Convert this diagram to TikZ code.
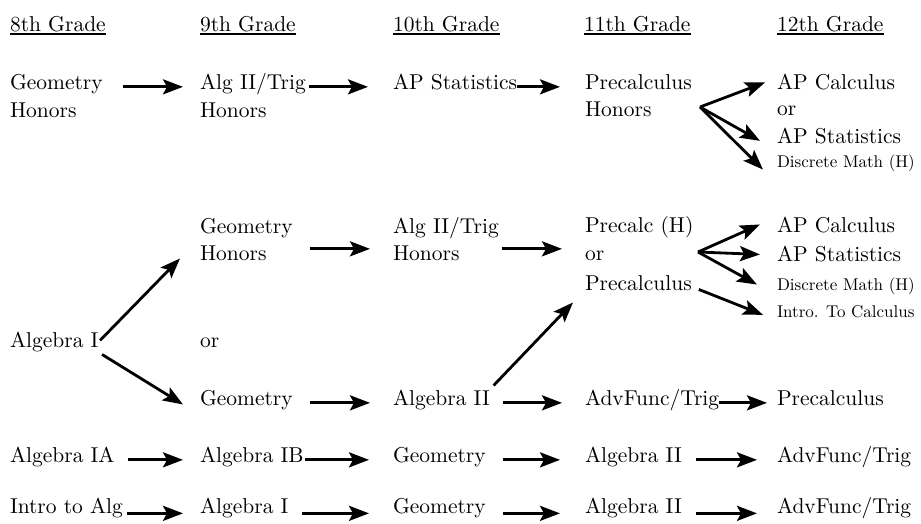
\documentclass[tikz,border=0pt]{standalone}
\usepackage{fontspec}
\setmainfont{lmroman10-regular.otf}
\usetikzlibrary{arrows.meta}
\begin{document}
\begin{tikzpicture}[x=1pt,y=-1pt,
  txt/.style={anchor=base west,inner sep=0pt,outer sep=0pt,font=\fontsize{21.5}{26}\selectfont},
  sml/.style={anchor=base west,inner sep=0pt,outer sep=0pt,font=\fontsize{17}{20}\selectfont},
  arr/.style={line width=2.8pt,-{Stealth[length=20pt,width=15pt,inset=4pt]}},
  ul/.style={line width=1.1pt}]
\useasboundingbox (0,0) rectangle (921,523);
% headers
\node[txt] (h8) at (10,31) {8th Grade};
\node[txt] (h9) at (200,31) {9th Grade};
\node[txt] (h10) at (393,31) {10th Grade};
\node[txt] (h11) at (584,31) {11th Grade};
\node[txt] (h12) at (777,31) {12th Grade};
\foreach \h in {h8,h9,h10,h11,h12}{
  \draw[ul] ([yshift=-3pt]\h.base west) -- ([yshift=-3pt]\h.base east);}
% row 1
\node[txt] (a1) at (10,89) {Geometry};
\node[txt] (a1b) at (10,117) {Honors};
\node[txt] (a2) at (200,89) {Alg II/Trig};
\node[txt] (a2b) at (200,117) {Honors};
\node[txt] (a3) at (393,89) {AP Statistics};
\node[txt] (a4) at (585,89) {Precalculus};
\node[txt] (a4b) at (585,116) {Honors};
\node[txt] (a5) at (777,89) {AP Calculus};
\node[txt] (a5b) at (777,115) {or};
\node[txt] (a5c) at (777,143) {AP Statistics};
\node[sml] (a5d) at (777,167) {Discrete Math (H)};
\draw[arr,shorten <=20pt,shorten >=17pt] (a1.mid east) -- (a2.mid west);
\draw[arr,shorten <=3pt,shorten >=25pt] (a2.mid east) -- (a3.mid west);
\draw[arr,shorten >=25pt] (a3.mid east) -- (a4.mid west);
\coordinate (fanA) at (700,107);
\draw[arr] (fanA) -- ([shift={(-12,-4.4)}]a5.mid west);
\draw[arr] (fanA) -- ([shift={(-17,0)}]a5c.mid west);
\draw[arr] (fanA) -- ([shift={(-14,4.7)}]a5d.mid west);
% row 2
\node[txt] (b2) at (200,233) {Geometry};
\node[txt] (b2b) at (200,260) {Honors};
\node[txt] (b3) at (393,233) {Alg II/Trig};
\node[txt] (b3b) at (393,260) {Honors};
\node[txt] (b4) at (585,232) {Precalc (H)};
\node[txt] (b4b) at (585,260) {or};
\node[txt] (b4c) at (585,290) {Precalculus};
\node[txt] (b5) at (777,232) {AP Calculus};
\node[txt] (b5b) at (777,261) {AP Statistics};
\node[sml] (b5c) at (777,290) {Discrete Math (H)};
\node[sml] (b5d) at (777,317) {Intro. To Calculus};
\draw[arr,shorten <=43.5pt,shorten >=23pt] ([yshift=9pt]b2b.mid east) -- ([yshift=9pt]b3b.mid west);
\draw[arr,shorten <=42.5pt,shorten >=23pt] ([yshift=9pt]b3b.mid east) -- ([yshift=9pt]b4b.mid west);
\coordinate (fanB) at (698,252);
\draw[arr] (fanB) -- ([shift={(-17,-5.4)}]b5.mid west);
\draw[arr] (fanB) -- ([shift={(-17,-4.4)}]b5b.mid west);
\draw[arr] (fanB) -- ([shift={(-20,-3.3)}]b5c.mid west);
\draw[arr] ([shift={(7,1.6)}]b4c.mid east) -- ([shift={(-14,0)}]b5d.mid west);
% algebra I
\node[txt] (c1) at (10,347) {Algebra I};
\node[txt] (c2) at (200,347) {or};
% row 3
\node[txt] (d2) at (200,405) {Geometry};
\node[txt] (d3) at (393,405) {Algebra II};
\node[txt] (d4) at (585,405) {AdvFunc/Trig};
\node[txt] (d5) at (777,405) {Precalculus};
\draw[arr] ([shift={(1.6,-4.4)}]c1.mid east) -- ([shift={(-20,0.6)}]b2b.mid west);
\draw[arr] ([shift={(3.6,9.6)}]c1.mid east) -- ([shift={(-17,1.6)}]d2.mid west);
\draw[arr,shorten <=17pt,shorten >=23pt] (d2.mid east) -- (d3.mid west);
\draw[arr,shorten <=13pt,shorten >=23pt] (d3.mid east) -- (d4.mid west);
\draw[arr,shorten >=10pt] (d4.mid east) -- (d5.mid west);
\draw[arr] ([shift={(3.8,-17.4)}]d3.mid east) -- ([shift={(-12,14.6)}]b4c.mid west);
% row 4
\node[txt] (e1) at (10,462) {Algebra IA};
\node[txt] (e2) at (200,462) {Algebra IB};
\node[txt] (e3) at (393,462) {Geometry};
\node[txt] (e4) at (585,462) {Algebra II};
\node[txt] (e5) at (777,462) {AdvFunc/Trig};
\draw[arr,shorten <=13.4pt,shorten >=17pt] (e1.mid east) -- (e2.mid west);
\draw[arr,shorten <=1.3pt,shorten >=24pt] (e2.mid east) -- (e3.mid west);
\draw[arr,shorten <=17.2pt,shorten >=25pt] (e3.mid east) -- (e4.mid west);
\draw[arr,shorten <=13.8pt,shorten >=20pt] (e4.mid east) -- (e5.mid west);
% row 5
\node[txt] (f1) at (10,513) {Intro to Alg};
\node[txt] (f2) at (200,513) {Algebra I};
\node[txt] (f3) at (393,513) {Geometry};
\node[txt] (f4) at (585,513) {Algebra II};
\node[txt] (f5) at (777,513) {AdvFunc/Trig};
\draw[arr,shorten <=4.5pt,shorten >=17pt] ([yshift=-2.5pt]f1.mid east) -- ([yshift=-2.5pt]f2.mid west);
\draw[arr,shorten <=13.5pt,shorten >=24pt] ([yshift=-2.5pt]f2.mid east) -- ([yshift=-2.5pt]f3.mid west);
\draw[arr,shorten <=17.2pt,shorten >=25pt] ([yshift=-2.5pt]f3.mid east) -- ([yshift=-2.5pt]f4.mid west);
\draw[arr,shorten <=13.8pt,shorten >=20pt] ([yshift=-2.5pt]f4.mid east) -- ([yshift=-2.5pt]f5.mid west);
\end{tikzpicture}
\end{document}
